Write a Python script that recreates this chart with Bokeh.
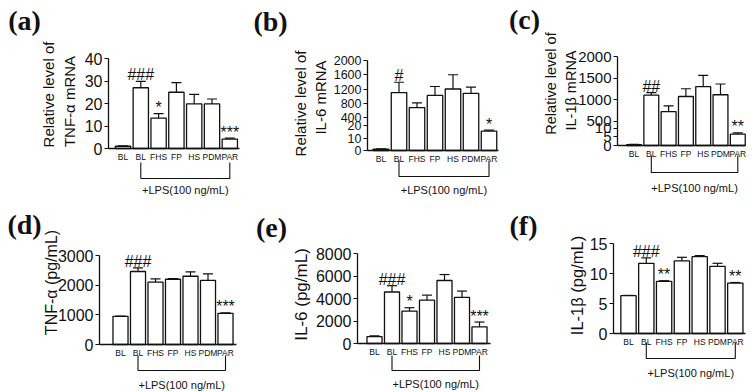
import math
from bokeh.plotting import figure
from bokeh.models import Range1d, FixedTicker
from bokeh.layouts import gridplot
from bokeh.embed import file_html
from bokeh.resources import INLINE
from bokeh.core.properties import value

# ---------------- data ----------------
groups = ["BL", "BL", "FHS", "FP", "HS", "PDM", "PAR"]
lps_text = "+LPS(100 ng/mL)"

a_vals = [1.0, 27.0, 13.5, 25.0, 19.8, 19.8, 4.2]
a_errs = [0.2, 2.8, 2.0, 4.3, 4.3, 2.2, 0.4]
a_marks = ["", "###", "*", "", "", "", "***"]
a_yticks = [0, 10, 20, 30, 40]

b_vals = [1.0, 1100, 680, 1020, 1200, 1080, 15.5]
b_errs = [0.3, 290, 130, 250, 400, 170, 0.8]
b_marks = ["", "#", "", "", "", "", "*"]
b_yticks = [0, 10, 20, 400, 800, 1200, 1600, 2000]

c_vals = [0.5, 1100, 720, 1070, 1300, 1110, 6.5]
c_errs = [0.2, 60, 130, 180, 260, 250, 0.7]
c_marks = ["", "##", "", "", "", "", "**"]
c_yticks = [0, 5, 10, 500, 1000, 1500, 2000]

d_vals = [950, 2460, 2100, 2200, 2300, 2160, 1050]
d_errs = [10, 120, 110, 20, 150, 220, 20]
d_marks = ["", "###", "", "", "", "", "***"]
d_yticks = [0, 1000, 2000, 3000]

e_vals = [620, 4580, 2880, 3850, 5600, 4100, 1480]
e_errs = [60, 560, 300, 450, 530, 560, 430]
e_marks = ["", "###", "*", "", "", "", "***"]
e_yticks = [0, 2000, 4000, 6000, 8000]

f_vals = [6.3, 11.7, 8.7, 12.1, 12.8, 11.2, 8.4]
f_errs = [0.05, 0.9, 0.1, 0.6, 0.2, 0.5, 0.1]
f_marks = ["", "###", "**", "", "", "", "**"]
f_yticks = [0, 5, 10, 15]

# ---------------- style ----------------
FONT = "Liberation Sans"
NARROW = "Liberation Sans Narrow, Liberation Sans"
SERIF = "Liberation Serif"
INK = "#111111"


def identity(v):
    return v


def broken(low_max, low_h, high_min, high_max, high_lo, high_hi):
    def f(v):
        if v <= low_max:
            return v / low_max * low_h
        return high_lo + (v - high_min) / (high_max - high_min) * (high_hi - high_lo)
    return f


panels = [
    dict(letter="(a)", vals=a_vals, errs=a_errs, marks=a_marks, yticks=a_yticks, tf=identity,
         origin=(0, 0), size=(251, 196), frame=(108, 239, 58, 148), xcat=(122.5, 17.8), ymax=40,
         letter_pos=(24, 20), tick_font=FONT, tick_fs="16px",
         ylabels=[("Relative level of", 48, 94, "15px"), ("TNF-α mRNA", 68.5, 101, "15px")],
         bracket=(162, 178), lps_bottom=195),
    dict(letter="(b)", vals=b_vals, errs=b_errs, marks=b_marks, yticks=b_yticks,
         tf=broken(20, 25, 400, 2000, 33, 90),
         origin=(251, 0), size=(251, 196), frame=(367, 498, 60, 150), xcat=(380.5, 18.0), ymax=90,
         letter_pos=(270, 21), tick_font=NARROW, tick_fs="12.5px",
         ylabels=[("Relative level of", 300, 103, "15px"), ("IL-6 mRNA", 320, 97, "15px")],
         bracket=(160, 176), lps_bottom=195),
    dict(letter="(c)", vals=c_vals, errs=c_errs, marks=c_marks, yticks=c_yticks,
         tf=broken(10, 17.5, 500, 2000, 24.5, 89),
         origin=(502, 0), size=(252, 196), frame=(617, 745, 56, 145), xcat=(633.5, 17.3), ymax=89,
         letter_pos=(524, 19), tick_font=NARROW, tick_fs="15px",
         ylabels=[("Relative level of", 550, 83, "14.5px"), ("IL-1β mRNA", 570, 90, "14.5px")],
         bracket=(155, 172), lps_bottom=193),
    dict(letter="(d)", vals=d_vals, errs=d_errs, marks=d_marks, yticks=d_yticks, tf=identity,
         origin=(0, 196), size=(251, 196), frame=(99, 236, 255, 344), xcat=(120, 17.5), ymax=3000,
         letter_pos=(24, 224), tick_font=NARROW, tick_fs="16px",
         ylabels=[("TNF-α (pg/mL)", 51, 282, "16px")],
         bracket=(355, 370), lps_bottom=390),
    dict(letter="(e)", vals=e_vals, errs=e_errs, marks=e_marks, yticks=e_yticks, tf=identity,
         origin=(251, 196), size=(251, 196), frame=(357, 490, 253, 343), xcat=(374, 17.5), ymax=8000,
         letter_pos=(271, 227), tick_font=NARROW, tick_fs="16px",
         ylabels=[("IL-6 (pg/mL)", 301, 294, "17px")],
         bracket=(355, 370), lps_bottom=389),
    dict(letter="(f)", vals=f_vals, errs=f_errs, marks=f_marks, yticks=f_yticks, tf=identity,
         origin=(502, 196), size=(252, 196), frame=(613, 745, 243, 333), xcat=(628, 17.8), ymax=15,
         letter_pos=(523, 225), tick_font=FONT, tick_fs="16px",
         ylabels=[("IL-1β (pg/mL)", 576, 285, "16.5px")],
         bracket=(342, 358), lps_bottom=378),
]


def overrides(pos_labels):
    d = {}
    for pos, lab in pos_labels:
        d[float(pos)] = lab
        s = str(int(pos)) if float(pos).is_integer() else repr(float(pos))
        d[s] = lab
    return d


def build(g):
    X0, Y0 = g["origin"]
    W, H = g["size"]
    L, R, T, B = g["frame"]
    c1, sp = g["xcat"]
    ymax = g["ymax"]
    tf = g["tf"]

    def dx(px):
        return 1 + (px - c1) / sp

    def dy(py):
        return (B - py) / (B - T) * ymax

    ypp = ymax / (B - T)
    xpp = 1.0 / sp

    p = figure(width=W, height=H,
               x_range=Range1d(dx(X0), dx(X0 + W)), y_range=Range1d(dy(Y0 + H), dy(Y0)),
               output_backend="svg", toolbar_location=None, title=None,
               min_border=0, min_border_left=0, min_border_right=0,
               min_border_top=0, min_border_bottom=0)
    p.xgrid.visible = False
    p.ygrid.visible = False
    p.outline_line_color = None
    p.background_fill_color = "white"
    p.border_fill_color = "white"

    xs = list(range(1, 8))
    tops = [tf(v) for v in g["vals"]]
    etops = [tf(v + e) for v, e in zip(g["vals"], g["errs"])]

    # error bars (upper half only)
    p.segment(x0=xs, y0=tops, x1=xs, y1=etops, line_color=INK, line_width=1.2)
    cw = 5 * xpp
    p.segment(x0=[x - cw for x in xs], y0=etops, x1=[x + cw for x in xs], y1=etops,
              line_color=INK, line_width=1.2)
    p.vbar(x=xs, top=tops, bottom=0, width=0.86, fill_color="white",
           line_color=INK, line_width=1.3)

    # significance marks
    mx, my, mt = [], [], []
    for x, et, m in zip(xs, etops, g["marks"]):
        if not m:
            continue
        mx.append(x)
        mt.append(m)
        my.append(et + (6.5 if m.startswith("#") else 6.0) * ypp)
    if mt:
        p.text(x=mx, y=my, text=mt, text_align="center", text_baseline="alphabetic",
               text_font=value(FONT), text_font_size=value("16px"), text_color=INK)

    # axes (kept inside the frame at fixed locations)
    xa = p.xaxis[0]
    xa.fixed_location = 0
    xa.bounds = (dx(L), dx(R))
    xa.ticker = FixedTicker(ticks=xs)
    xa.major_label_overrides = overrides(list(zip(xs, groups)))
    xa.major_tick_out = 0
    xa.major_tick_in = 0
    xa.major_tick_line_color = None
    xa.minor_tick_line_color = None
    xa.axis_line_color = INK
    xa.axis_line_width = 1.3
    xa.major_label_standoff = 3
    xa.major_label_text_font = NARROW
    xa.major_label_text_font_size = "8.5px"
    xa.major_label_text_color = INK

    ya = p.yaxis[0]
    ya.fixed_location = dx(L)
    ya.bounds = (0, ymax)
    tpos = [tf(t) for t in g["yticks"]]
    ya.ticker = FixedTicker(ticks=tpos)
    ya.major_label_overrides = overrides([(tp, str(t)) for tp, t in zip(tpos, g["yticks"])])
    ya.major_tick_out = 4
    ya.major_tick_in = 0
    ya.major_tick_line_color = INK
    ya.major_tick_line_width = 1.2
    ya.minor_tick_line_color = None
    ya.axis_line_color = INK
    ya.axis_line_width = 1.3
    ya.major_label_standoff = 2
    ya.major_label_text_font = g["tick_font"]
    ya.major_label_text_font_size = g["tick_fs"]
    ya.major_label_text_color = INK

    # panel letter
    lx, ly = g["letter_pos"]
    p.text(x=[dx(lx)], y=[dy(ly)], text=[g["letter"]], text_font=value(SERIF),
           text_font_style="bold", text_font_size=value("28px"), text_align="center",
           text_baseline="middle", text_color=INK)
    # y axis titles
    for txt, px, py, fs in g["ylabels"]:
        p.text(x=[dx(px)], y=[dy(py)], text=[txt], angle=math.pi / 2, text_font=value(FONT),
               text_font_size=value(fs), text_align="center", text_baseline="middle",
               text_color=INK)
    # LPS bracket
    btop, bbot = g["bracket"]
    p.line(x=[2, 2, 7, 7], y=[dy(btop), dy(bbot), dy(bbot), dy(btop)],
           line_color=INK, line_width=1.1)
    p.text(x=[4.5], y=[dy(g["lps_bottom"])], text=[lps_text], text_font=value(FONT),
           text_font_size=value("11px"), text_align="center", text_baseline="bottom",
           text_color=INK)
    return p


figs = [build(g) for g in panels]
grid = gridplot([figs[:3], figs[3:]], toolbar_location=None)
open("out.html", "w").write(file_html(grid, INLINE))
